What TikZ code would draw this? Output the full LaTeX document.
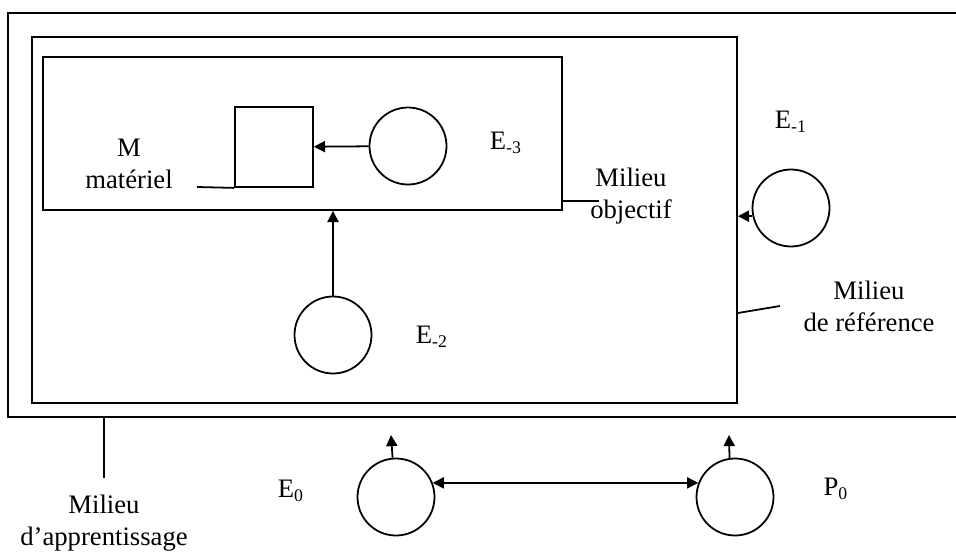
\documentclass[tikz,border=0pt]{standalone}
\usepackage{fontspec}
\setmainfont{Liberation Serif}
\usetikzlibrary{arrows.meta}

\begin{document}
\begin{tikzpicture}[x=0.45pt,y=-0.45pt,line width=0.8pt]
\useasboundingbox (0,0) rectangle (956,552);

% milieux
\draw (956,13) -- (8,13) -- (8,417) -- (956,417);
\begin{scope}[every node/.style={draw,rectangle,inner sep=0pt}]
    \node[minimum width=705*0.45pt,minimum height=366*0.45pt] (ref) at (384.5,220) {};
    \node[minimum width=519*0.45pt,minimum height=153*0.45pt] (obj) at (302.5,133.5) {};
    \node[minimum width=78*0.45pt,minimum height=80*0.45pt] (mat) at (274,147) {};
\end{scope}

% etats
\begin{scope}[every node/.style={circle,draw,minimum size=77*0.45pt,inner sep=0pt}]
    \node (e3) at (408,146) {};
    \node (e1) at (791,208) {};
    \node (e2) at (333,335) {};
    \node (e0) at (396,497) {};
    \node (p0) at (735,497) {};
\end{scope}

% etiquettes
\begin{scope}[every node/.style={align=center,inner sep=0pt,
              font=\fontsize{12}{14.4}\selectfont}]
    \node (lmat) at (129,164) {M\\matériel};
    \node (lobj) at (631,196) {Milieu\\objectif};
    \node (lref) at (869,306) {Milieu\\de référence};
    \node (lapp) at (104,523) {Milieu\\d’apprentissage};
    \node (le3) at (506,143) {E\textsubscript{-3}};
    \node (le1) at (791,122) {E\textsubscript{-1}};
    \node (le2) at (432,337) {E\textsubscript{-2}};
    \node (le0) at (291,491) {E\textsubscript{0}};
    \node (lp0) at (836,489) {P\textsubscript{0}};
\end{scope}

\coordinate (cmat) at (197,187);
\coordinate (cobj) at (599,201);
\coordinate (cref) at (780,306);
\coordinate (capp) at (104,417);
\coordinate (capp2) at (104,478);
\coordinate (e0up) at (391,435);
\coordinate (p0up) at (729,435);

\draw (cmat) -- (mat.south west);
\draw (obj.east |- cobj) -- (cobj);
\draw (ref.east |- 0,313) -- (cref);
\draw (capp) -- (capp2);

\begin{scope}[>={Triangle[length=5pt,width=5pt]}]
    \path [->] (e3) edge (mat);
    \draw [->] (e2.north) -- (e2.north |- obj.south);
    \draw [->] (e1.192) -- (e1.192 -| ref.east);
    \draw [<->] (e0.21) -- (p0.159);
    \draw [->] (e0.95) -- (e0up);
    \draw [->] (p0.98) -- (p0up);
\end{scope}
\end{tikzpicture}
\end{document}
